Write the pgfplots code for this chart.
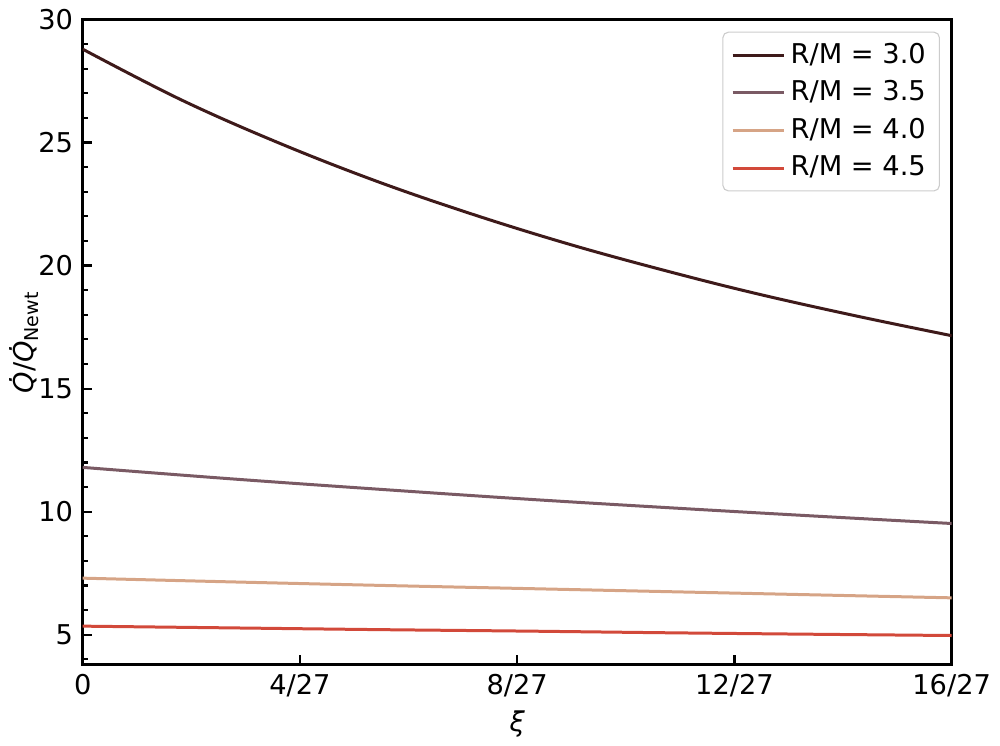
\documentclass[border=0pt]{standalone}
\usepackage{fontspec}
\setmainfont{DejaVu Sans}
\usepackage{pgfplots}
\pgfplotsset{compat=1.18}
\definecolor{cA}{HTML}{3E1A1A}
\definecolor{cB}{HTML}{7A5A64}
\definecolor{cC}{HTML}{D6A486}
\definecolor{cD}{HTML}{D2493A}
\definecolor{legb}{HTML}{CCCCCC}
\begin{document}
\begin{tikzpicture}
\begin{axis}[
  scale only axis,
  width=318.96pt, height=236.9pt,
  xmin=0, xmax=0.592593,
  ymin=3.78, ymax=30,
  xtick={0,0.148148,0.296296,0.444444,0.592593},
  xticklabels={0,4/27,8/27,12/27,16/27},
  ytick={5,10,15,20,25,30},
  minor x tick num=3,
  minor ytick={4,6,7,8,9,11,12,13,14,16,17,18,19,21,22,23,24,26,27,28,29},
  tick align=inside,
  xtick pos=bottom, ytick pos=left,
  major tick length=3.5pt, minor tick length=2pt,
  every tick/.style={black, line width=0.8pt},
  axis line style={line width=1pt},
  /pgf/number format/assume math mode=true,
  tick label style={font=\fontsize{10}{12}\selectfont},
  xlabel={\textit{ξ}},
  ylabel={\textit{\.{Q}}/\textit{\.{Q}}\textsubscript{Newt}},
  label style={font=\fontsize{10}{12}\selectfont},
  xlabel style={yshift=2pt},
  ylabel style={yshift=-7pt},
  legend style={at={(rel axis cs:1,1)}, anchor=north east, xshift=-4.3pt, yshift=-4.5pt,
    draw=legb, rounded corners=2pt, fill=white, fill opacity=0.8, text opacity=1,
    font=\fontsize{10}{12}\selectfont, row sep=0.9pt, inner xsep=3pt, inner ysep=2pt},
  legend cell align=left,
  legend image code/.code={\draw[#1] (0cm,0cm) -- (0.66cm,0cm);},
  every axis plot/.append style={line width=1.1pt, smooth, tension=0.6},
]
\addplot[cA] coordinates {
(0,28.79) (0.06688,26.74) (0.13377,24.98) (0.20065,23.42) (0.26754,22.05)
(0.33442,20.82) (0.40130,19.73) (0.46150,18.83) (0.52838,17.94) (0.592593,17.15)};
\addlegendentry{R/M = 3.0}
\addplot[cB] coordinates {
(0,11.80) (0.1,11.34) (0.2,10.92) (0.3,10.52) (0.4,10.16) (0.5,9.82) (0.592593,9.52)};
\addlegendentry{R/M = 3.5}
\addplot[cC] coordinates {
(0,7.30) (0.1,7.15) (0.2,7.01) (0.3,6.88) (0.4,6.75) (0.5,6.62) (0.592593,6.50)};
\addlegendentry{R/M = 4.0}
\addplot[cD] coordinates {
(0,5.35) (0.1,5.28) (0.2,5.21) (0.3,5.15) (0.4,5.08) (0.5,5.02) (0.592593,4.97)};
\addlegendentry{R/M = 4.5}
\end{axis}
\end{tikzpicture}
\end{document}
